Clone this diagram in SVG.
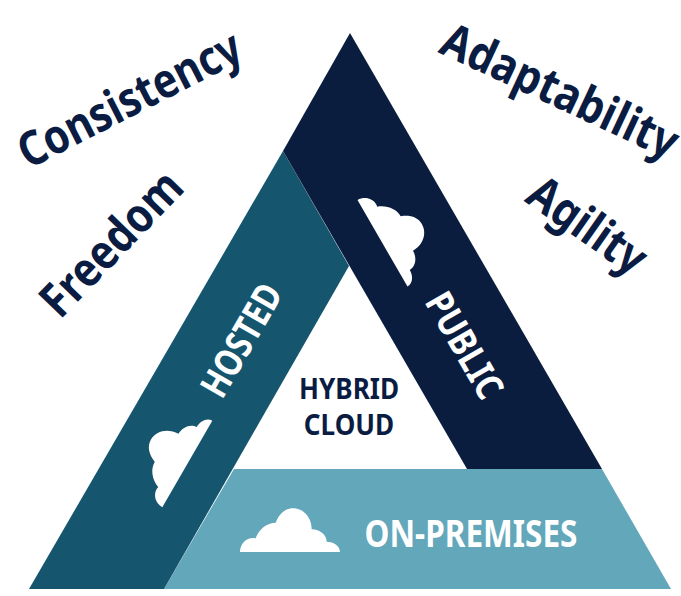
<svg xmlns="http://www.w3.org/2000/svg" width="681" height="596" viewBox="0 0 681 596">
<style>
text{font-family:"Noto Sans","Open Sans","Liberation Sans",sans-serif;font-weight:700;text-anchor:middle}
.n{fill:#0a1c42;font-size:48px}
.w{fill:#fff;font-size:38px}
.h{fill:#0a1c42;font-size:29px}
.c{fill:#fff}
</style>
<defs>
<path id="cloud" d="M0 0C0 -8 6 -14 13 -14C14 -14 15 -14 15.500 -13.500C19 -23 27 -29.300 35.700 -29.300C39 -38 45 -43.700 53 -43.700C64 -43.700 71.700 -34 71.700 -22.700C80 -22.700 86.700 -17 86.700 -10.300C94 -10.300 100 -6 100 0Z"/>
</defs>
<rect width="681" height="596" fill="#fff"/>
<g id="on-premises">
<polygon points="234,469 602,469 671,589 164,589" fill="#63a7bb"/>
<use href="#cloud" x="240" y="552" class="c"/>
<text class="w" transform="translate(471,547) scale(0.83,1)">ON-PREMISES</text>
</g>
<g id="hosted">
<polygon points="283,151 349,266 164,589 29,589" fill="#15556e"/>
<use href="#cloud" transform="translate(162.300,507.300) rotate(-60)" class="c"/>
<text class="w" transform="translate(253,347) rotate(-60) scale(0.82,1)">HOSTED</text>
</g>
<g id="public">
<polygon points="350,33 602,469 467,469 283,151" fill="#0b1d3e"/>
<use href="#cloud" transform="translate(357.500,200) rotate(60)" class="c"/>
<text class="w" transform="translate(453,352) rotate(60) scale(0.84,1)">PUBLIC</text>
</g>
<g id="hybrid-cloud">
<text class="h" transform="translate(349,399) scale(0.9,1)">HYBRID</text>
<text class="h" transform="translate(349,435) scale(0.9,1)">CLOUD</text>
</g>
<g id="attributes">
<text class="n" transform="translate(137,114) rotate(-27) scale(0.85,1)">Consistency</text>
<text class="n" transform="translate(123,255) rotate(-46) scale(0.86,1)">Freedom</text>
<text class="n" transform="translate(553,106) rotate(25) scale(0.87,1)">Adaptability</text>
<text class="n" transform="translate(578,239) rotate(35) scale(0.86,1)">Agility</text>
</g>
</svg>
